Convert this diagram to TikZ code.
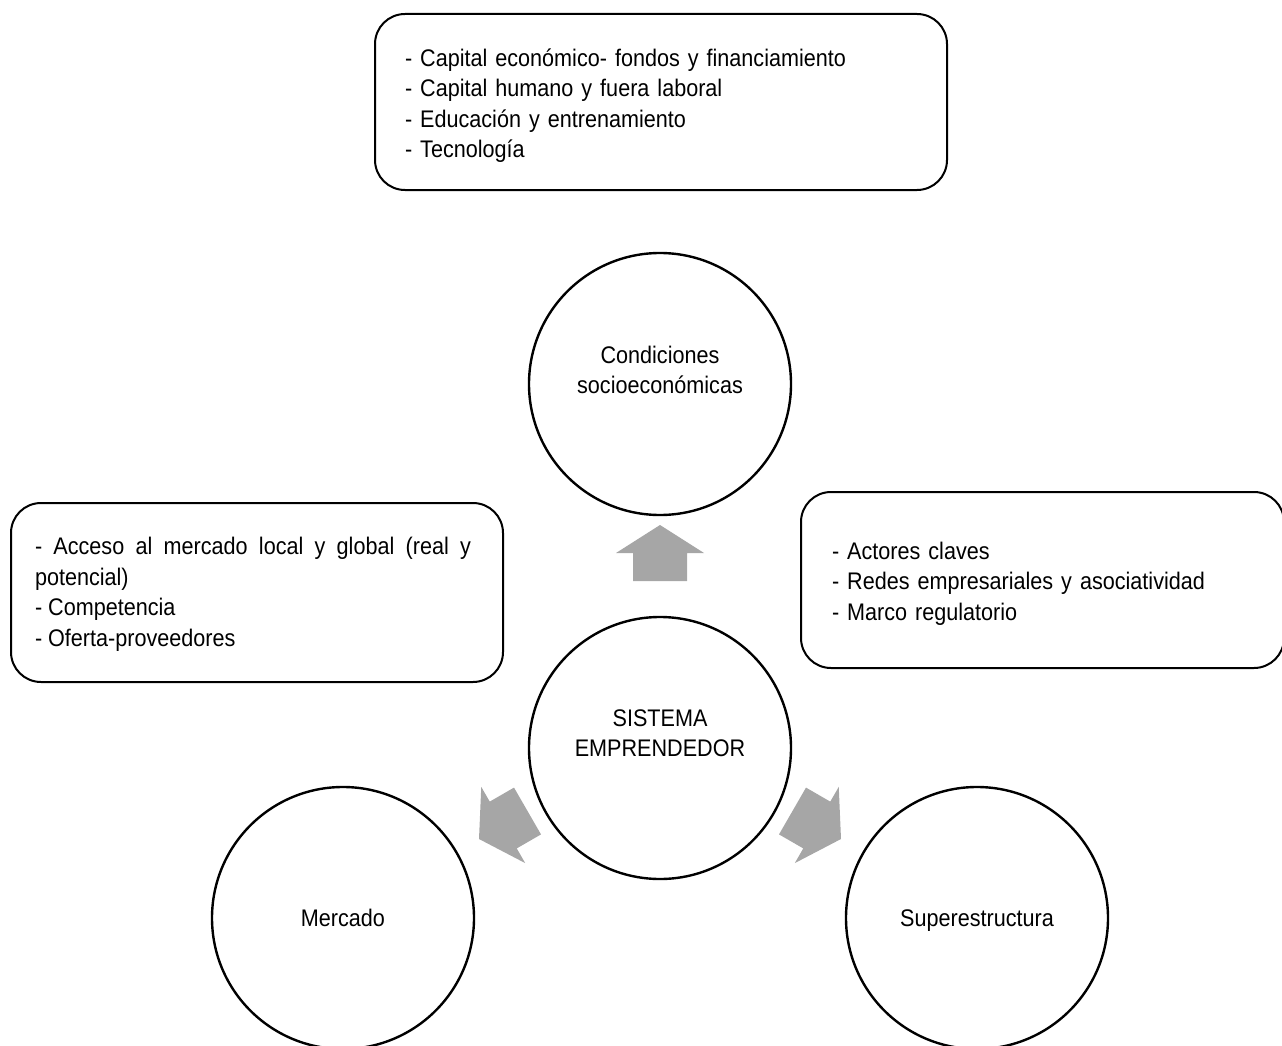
\documentclass[tikz,border=0pt]{standalone}
\usepackage{fontspec}
\setmainfont{Liberation Sans}[FakeStretch=0.9]
\definecolor{arrowgray}{HTML}{A6A6A6}
\begin{document}
\begin{tikzpicture}[x=1pt,y=-1pt,
  circ/.style={circle, draw, line width=2.4pt, minimum size=262pt, inner sep=0pt,
               text height=17.2pt, text depth=0pt,
               font=\fontsize{24}{30.5}\selectfont},
  infobox/.style={draw, line width=2pt, rounded corners=30pt, inner sep=0pt, anchor=north west},
  blockarrow/.style={fill=arrowgray, draw=none},
  txt/.style={font=\fontsize{24}{30.5}\selectfont, inner sep=0pt, outer sep=0pt},
  listtext/.style={txt, anchor=north west, align=left},
  circtext/.style={txt, anchor=north, text width=262pt, align=center},
]
\useasboundingbox (0,0) rectangle (1282,1046);

% four circles
\node[circ] (cond) at (660,384) {};
\node[circ] (sis)  at (660,748) {};
\node[circ] (merc) at (343,918) {Mercado};
\node[circ] (sup)  at (977,918) {Superestructura};

\node[circtext] (condtext) at (660,346) {Condiciones\\socioeconómicas};
\node[circtext] (sistext)  at (660,709.5) {SISTEMA\\EMPRENDEDOR};

% rounded boxes with lists
\node[infobox, minimum width=572pt, minimum height=176pt] (recbox) at (374,13) {};
\node[infobox, minimum width=492pt, minimum height=179pt] (mercbox) at (10,502) {};
\node[infobox, minimum width=483pt, minimum height=176pt] (supbox) at (800,491) {};

\node[listtext, text width=520pt] (rectext) at (405,48.6) {%
- Capital económico- fondos y financiamiento\\
- Capital humano y fuera laboral\\
- Educación y entrenamiento\\
- Tecnología};

\node[listtext, text width=436pt, align=justify,
      execute at begin node={\hyphenpenalty=10000 \tolerance=10000}] (merctext) at (35,537.5) {%
- Acceso al mercado local y global (real y potencial)\\
- Competencia\\
- Oferta-proveedores};

\node[listtext, text width=440pt] (suptext) at (832,541.8) {%
- Actores claves\\
- Redes empresariales y asociatividad\\
- Marco regulatorio};

% block arrows leaving the central circle
\fill[blockarrow] (660,525) -- (704,553) -- (687,553) -- (687,581)
  -- (633,581) -- (633,553) -- (616,553) -- cycle;
\fill[blockarrow] (479,839) -- (525.2,863.1) -- (516.75,848.4) -- (541,834.4)
  -- (514,787.6) -- (489.75,801.6) -- (481.25,786.9) -- cycle;
\fill[blockarrow] (841,839) -- (794.8,863.1) -- (803.25,848.4) -- (779,834.4)
  -- (806,787.6) -- (830.25,801.6) -- (838.75,786.9) -- cycle;
\end{tikzpicture}
\end{document}
